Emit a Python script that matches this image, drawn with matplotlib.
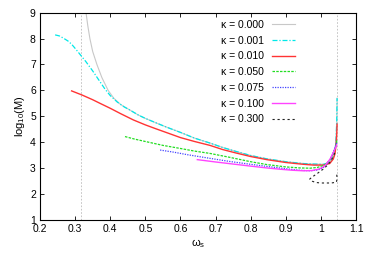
import matplotlib
matplotlib.use("Agg")
import matplotlib.pyplot as plt

plt.rcParams['font.family'] = ['Liberation Sans', 'DejaVu Sans']
plt.rcParams['mathtext.fontset'] = 'custom'
plt.rcParams['mathtext.rm'] = 'Liberation Sans'

# curves: omega_s and log10(M) for each kappa
k000_w = [0.331, 0.336, 0.342, 0.350, 0.362, 0.376, 0.394, 0.410, 0.430, 0.455, 0.480, 0.500, 0.530,
          0.561, 0.600, 0.640, 0.684, 0.720, 0.760, 0.800, 0.846, 0.900, 0.950, 0.980, 1.007, 1.025,
          1.035, 1.040, 1.043, 1.045, 1.046]
k000_m = [9.0, 8.5, 8.0, 7.5, 7.0, 6.5, 6.0, 5.7, 5.45, 5.25, 5.05, 4.92, 4.75,
          4.58, 4.38, 4.16, 3.97, 3.80, 3.64, 3.49, 3.36, 3.25, 3.18, 3.16, 3.15, 3.22,
          3.4, 3.65, 4.1, 4.8, 5.7]

k001_w = [0.243, 0.255, 0.266, 0.280, 0.290, 0.300, 0.315, 0.330, 0.350, 0.370, 0.385, 0.400, 0.420,
          0.440, 0.455, 0.480, 0.500, 0.530, 0.561, 0.600, 0.640, 0.684, 0.720, 0.760, 0.800, 0.846,
          0.900, 0.950, 0.980, 1.007, 1.025, 1.035, 1.040, 1.043, 1.045, 1.046]
k001_m = [8.14, 8.1, 8.02, 7.9, 7.78, 7.62, 7.37, 7.12, 6.75, 6.35, 6.05, 5.8, 5.55,
          5.36, 5.25, 5.05, 4.92, 4.75, 4.58, 4.38, 4.16, 3.97, 3.80, 3.64, 3.49, 3.36,
          3.25, 3.18, 3.16, 3.15, 3.22, 3.4, 3.65, 4.1, 4.8, 5.7]

k010_w = [0.290, 0.320, 0.350, 0.371, 0.400, 0.430, 0.466, 0.500, 0.530, 0.561, 0.600, 0.640, 0.684,
          0.720, 0.760, 0.800, 0.846, 0.900, 0.950, 0.980, 1.007, 1.025, 1.035, 1.040, 1.043, 1.045, 1.046]
k010_m = [5.98, 5.82, 5.64, 5.50, 5.31, 5.10, 4.86, 4.67, 4.52, 4.37, 4.18, 4.03, 3.88,
          3.72, 3.58, 3.45, 3.33, 3.22, 3.15, 3.12, 3.12, 3.18, 3.35, 3.55, 3.9, 4.3, 4.7]

k050_w = [0.442, 0.470, 0.500, 0.550, 0.600, 0.640, 0.684, 0.740, 0.800, 0.846, 0.900, 0.940, 0.969,
          0.990, 1.010, 1.025, 1.035, 1.042, 1.046]
k050_m = [4.22, 4.12, 4.03, 3.88, 3.76, 3.66, 3.57, 3.42, 3.25, 3.14, 3.05, 3.01, 3.0,
          3.03, 3.12, 3.3, 3.55, 3.85, 4.1]

k075_w = [0.542, 0.580, 0.620, 0.684, 0.740, 0.800, 0.846, 0.900, 0.940, 0.969, 0.990, 1.005, 1.020,
          1.032, 1.040, 1.045]
k075_m = [3.70, 3.62, 3.52, 3.38, 3.26, 3.15, 3.07, 2.98, 2.92, 2.90, 2.93, 3.0, 3.2,
          3.5, 3.8, 4.0]

k100_w = [0.648, 0.700, 0.750, 0.800, 0.846, 0.884, 0.920, 0.950, 0.975, 0.995, 1.010, 1.026, 1.037, 1.045]
k100_m = [3.33, 3.24, 3.16, 3.08, 3.01, 2.96, 2.92, 2.90, 2.91, 2.97, 3.08, 3.35, 3.65, 3.9]

k300_w = [1.045, 1.046, 1.044, 1.030, 1.000, 0.985, 0.975, 0.968, 0.975, 0.990, 1.005, 1.015, 1.025,
          1.033, 1.040]
k300_m = [2.75, 2.60, 2.46, 2.43, 2.43, 2.45, 2.50, 2.58, 2.66, 2.80, 2.95, 3.07, 3.22,
          3.40, 3.60]

labels = ['κ = 0.000', 'κ = 0.001', 'κ = 0.010', 'κ = 0.050', 'κ = 0.075', 'κ = 0.100', 'κ = 0.300']
omega_lines = [0.3175, 1.047]

fig = plt.figure(figsize=(3.74, 2.62), dpi=100)
ax = fig.add_axes([0.107, 0.160, 0.845, 0.792])

for w in omega_lines:
    ax.axvline(w, color='#bbbbbb', lw=0.6, ls=(0, (2, 2)))

ax.plot(k000_w, k000_m, color='#c8c8c8', lw=0.8, label=labels[0])
ax.plot(k001_w, k001_m, color='#00e8e8', lw=0.9, ls=(0, (4, 1.5, 1, 1.5)), label=labels[1])
ax.plot(k010_w, k010_m, color='#ff3333', lw=1.0, label=labels[2])
ax.plot(k050_w, k050_m, color='#22dd22', lw=0.9, ls=(0, (2, 1)), label=labels[3])
ax.plot(k075_w, k075_m, color='#4444ff', lw=0.9, ls=(0, (1, 1)), label=labels[4])
ax.plot(k100_w, k100_m, color='#ff44ff', lw=1.0, label=labels[5])
ax.plot(k300_w, k300_m, color='#222222', lw=0.8, ls=(0, (2, 2.5)), label=labels[6])

ax.set_xlim(0.2, 1.1)
ax.set_ylim(1, 9)
ax.set_xticks([0.2, 0.3, 0.4, 0.5, 0.6, 0.7, 0.8, 0.9, 1.0, 1.1])
ax.set_xticklabels(['0.2', '0.3', '0.4', '0.5', '0.6', '0.7', '0.8', '0.9', '1', '1.1'])
ax.set_yticks(range(1, 10))
ax.tick_params(direction='in', top=True, right=True, labelsize=7.5, length=3, width=0.6, pad=3)
for s in ax.spines.values():
    s.set_linewidth(0.8)

ax.set_xlabel('ω$_\\mathregular{s}$', fontsize=8, labelpad=2)
ax.set_ylabel('log$_\\mathregular{10}$(M)', fontsize=8, labelpad=2)

ax.legend(loc='upper right', bbox_to_anchor=(0.83, 1.0), frameon=False, fontsize=7.5,
          markerfirst=False, handlelength=2.2, labelspacing=0.55, borderaxespad=0.3)

fig.savefig('out.png', dpi=100)
